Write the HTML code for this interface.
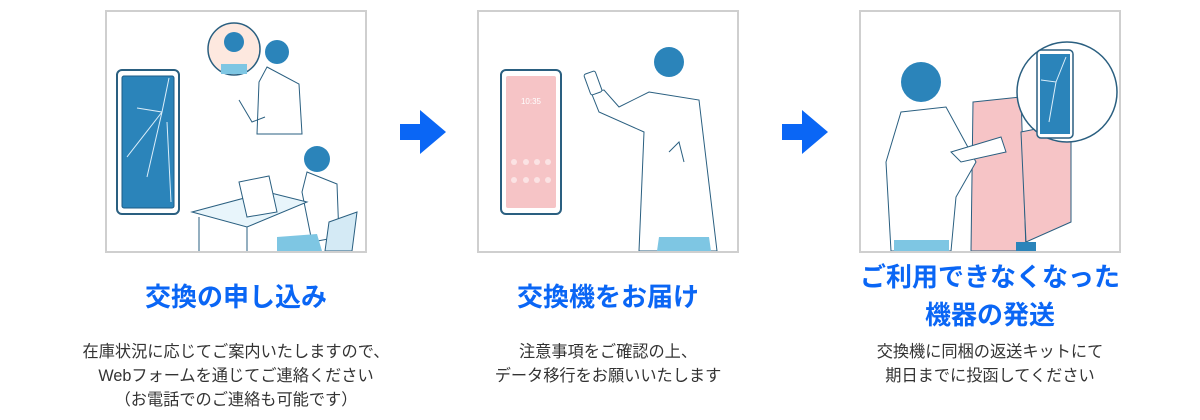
<!DOCTYPE html>
<html><head><meta charset="utf-8"><style>
body{margin:0;width:1200px;height:420px;background:#fff;position:relative;overflow:hidden;font-family:"Liberation Sans","Noto Sans CJK JP",sans-serif}
.box{position:absolute;top:10px;width:258px;height:239px;border:2px solid #cfcfcf;background:#fff;overflow:hidden}
.t{position:absolute;color:#0a66f5;font-weight:bold;font-size:26px;text-align:center;line-height:38px;width:340px}
.d{position:absolute;color:#333;font-size:16.2px;text-align:center;line-height:24px;width:360px}
</style></head><body>
<div class="box" style="left:105px"><svg width="258" height="239">
<rect x="10" y="58" width="62" height="144" rx="5" fill="#fff" stroke="#2a5f80" stroke-width="2"/>
<rect x="15" y="64" width="52" height="132" rx="2" fill="#2b84ba" stroke="#1c5b86"/>
<path d="M62 66 L55 100 L30 96 M55 100 L20 145 M55 100 L40 165 M60 110 L64 190" stroke="#dbeefa" fill="none"/>
<circle cx="127" cy="37" r="26" fill="#fde8df" stroke="#2a5f80" stroke-width="1.5"/>
<circle cx="127" cy="30" r="10" fill="#2b84ba"/>
<path d="M114 62 L140 62 L140 52 L114 52Z" fill="#7ec6e3"/>
<circle cx="170" cy="40" r="12" fill="#2b84ba"/>
<path d="M160 55 L192 72 L195 122 L150 122 L152 70Z" fill="#fff" stroke="#2a5f80"/>
<path d="M132 88 L145 110 L158 105" fill="none" stroke="#2a5f80"/>
<circle cx="210" cy="147" r="13" fill="#2b84ba"/>
<path d="M200 160 L230 172 L232 225 L205 230 L195 180Z" fill="#fff" stroke="#2a5f80"/>
<path d="M85 200 L160 180 L200 190 L140 215Z" fill="#e8f5fb" stroke="#2a5f80"/>
<path d="M132 170 L162 164 L170 200 L140 205Z" fill="#fff" stroke="#2a5f80"/>
<path d="M92 205 L92 239 M140 215 L140 239" stroke="#2a5f80"/>
<path d="M222 210 L250 200 L245 239 L218 239Z" fill="#d4eaf5" stroke="#2a5f80"/>
<path d="M170 225 L210 222 L215 239 L170 239Z" fill="#7ec6e3"/>
</svg></div>
<svg style="position:absolute;left:398px;top:110px" width="50" height="44"><path d="M2 14 L22 14 L22 0 L48 22 L22 44 L22 30 L2 30Z" fill="#0a66f5"/></svg>
<div class="box" style="left:477px"><svg width="258" height="239">
<rect x="22" y="58" width="60" height="144" rx="5" fill="#fff" stroke="#2a5f80" stroke-width="2"/>
<rect x="27" y="64" width="50" height="132" rx="2" fill="#f6c4c6"/>
<text x="52" y="92" font-size="8" fill="#fff" text-anchor="middle" font-family="Liberation Sans">10:35</text>
<g fill="#fbe3e4"><circle cx="35" cy="150" r="3"/><circle cx="47" cy="150" r="3"/><circle cx="58" cy="150" r="3"/><circle cx="69" cy="150" r="3"/><circle cx="35" cy="168" r="3"/><circle cx="47" cy="168" r="3"/><circle cx="58" cy="168" r="3"/><circle cx="69" cy="168" r="3"/></g>
<circle cx="190" cy="50" r="15" fill="#2b84ba"/>
<path d="M170 80 L220 88 L238 239 L160 239 L165 120 L120 100 L112 80 L125 78 L140 95Z" fill="#fff" stroke="#2a5f80"/>
<rect x="108" y="60" width="12" height="22" rx="2" fill="#fff" stroke="#2a5f80" transform="rotate(-20 114 71)"/>
<path d="M190 140 L200 130 L205 150" fill="none" stroke="#2a5f80"/>
<path d="M180 225 L230 225 L232 239 L178 239Z" fill="#7ec6e3"/>
</svg></div>
<svg style="position:absolute;left:780px;top:110px" width="50" height="44"><path d="M2 14 L22 14 L22 0 L48 22 L22 44 L22 30 L2 30Z" fill="#0a66f5"/></svg>
<div class="box" style="left:859px"><svg width="258" height="239">
<path d="M112 90 L160 85 L165 239 L110 239Z" fill="#f6c4c6" stroke="#2a5f80"/>
<path d="M160 120 L210 110 L210 210 L165 230Z" fill="#f6c4c6" stroke="#2a5f80"/>
<path d="M155 230 L175 230 L175 239 L155 239Z" fill="#2b84ba"/>
<circle cx="206" cy="80" r="50" fill="#fff" stroke="#2a5f80" stroke-width="1.5"/>
<rect x="176" y="38" width="36" height="88" rx="4" fill="#fff" stroke="#2a5f80" stroke-width="1.5"/>
<rect x="179" y="42" width="30" height="80" fill="#2b84ba"/>
<path d="M205 45 L195 70 L180 68 M195 70 L188 110" stroke="#dbeefa" fill="none"/>
<circle cx="60" cy="70" r="20" fill="#2b84ba"/>
<path d="M40 100 L85 95 L115 150 L95 185 L90 239 L30 239 L25 150Z" fill="#fff" stroke="#2a5f80"/>
<path d="M90 140 L140 125 L145 140 L100 150Z" fill="#fff" stroke="#2a5f80"/>
<path d="M33 228 L88 228 L88 239 L33 239Z" fill="#7ec6e3"/>
</svg></div>
<div class="t" style="left:66px;top:278px">交換の申し込み</div>
<div class="t" style="left:438px;top:278px">交換機をお届け</div>
<div class="t" style="left:820px;top:258px">ご利用できなくなった<br>機器の発送</div>
<div class="d" style="left:56px;top:340px">在庫状況に応じてご案内いたしますので、<br>Webフォームを通じてご連絡ください<br>（お電話でのご連絡も可能です）</div>
<div class="d" style="left:428px;top:340px">注意事項をご確認の上、<br>データ移行をお願いいたします</div>
<div class="d" style="left:810px;top:340px">交換機に同梱の返送キットにて<br>期日までに投函してください</div>
</body></html>
